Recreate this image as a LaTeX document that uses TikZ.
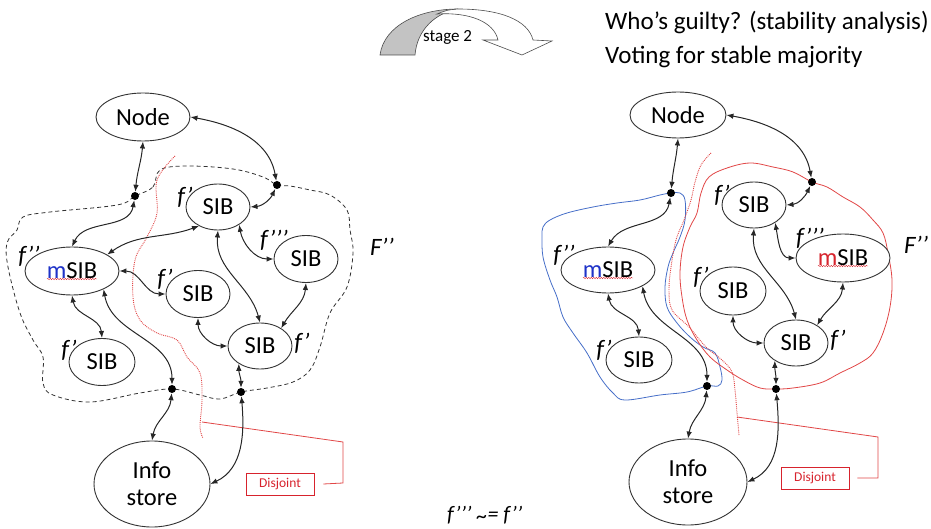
\documentclass[tikz,border=0pt]{standalone}
\usepackage{fontspec}
\setmainfont{Carlito}
\usetikzlibrary{arrows.meta,shapes.geometric,decorations.pathmorphing}
\definecolor{mred}{RGB}{215,35,45}
\definecolor{mblue}{RGB}{30,50,200}
\definecolor{bline}{RGB}{70,110,200}
\definecolor{rline}{RGB}{225,70,70}
\definecolor{backgray}{RGB}{195,195,195}
\begin{document}
\begin{tikzpicture}[x=1pt,y=1pt,
  ell/.style={draw=black!80, ellipse, fill=white, inner sep=0pt, line width=0.9pt, font=\fontsize{24.5}{27}\selectfont},
  dotn/.style={circle, fill=black, inner sep=0pt, minimum size=8pt},
  conn/.style={{Latex[length=7pt,width=5.5pt]}-{Latex[length=7pt,width=5.5pt]}, line width=1pt, black!85},
  flab/.style={inner sep=0pt, font=\fontsize{25}{27}\selectfont\itshape},
  disj/.style={draw=mred, text=mred, line width=0.8pt, minimum width=68pt, minimum height=22pt, inner sep=0pt, font=\fontsize{13.5}{15}\selectfont},
  redln/.style={rline, line width=0.8pt},
  wavy/.style={mred, line width=0.4pt, decorate, decoration={snake, amplitude=0.7pt, segment length=2.5pt}}
]
\useasboundingbox (0,0) rectangle (931,-529);

% ---------- header ----------
\fill[backgray, draw=black!70, line width=0.6pt] (380,-55) .. controls (384,-25) and (420,-9) .. (458,-9)
  .. controls (435,-13) and (417,-30) .. (415,-55) -- cycle;
\filldraw[fill=white, draw=black!70, line width=0.6pt] (437,-14) .. controls (447,-10) .. (458,-9)
  .. controls (500,-9) and (528,-20) .. (533,-40) -- (552,-41) -- (522,-55) -- (483,-40) -- (498,-40)
  .. controls (494,-22) and (470,-12) .. (437,-14) -- cycle;
\node[anchor=base west, inner sep=0pt, font=\fontsize{17}{19}\selectfont] (stage) at (423,-42) {stage 2};
\node[anchor=base west, inner sep=0pt, font=\fontsize{25}{28}\selectfont] (t1) at (605,-30) {Who’s guilty? (stability analysis)};
\node[anchor=base west, inner sep=0pt, font=\fontsize{25}{28}\selectfont] (t2) at (605,-64) {Voting for stable majority};
\node[anchor=base west, inner sep=0pt, font=\fontsize{22}{24}\selectfont\itshape] (eq) at (447,-521) {f’’’ \raisebox{-2.5pt}{\textasciitilde}= f’’};

% ---------- left boundaries ----------
\draw[dash pattern=on 4pt off 3pt, line width=0.8pt, black!80] plot[smooth cycle, tension=0.6] coordinates {
  (135,-196) (153,-187) (160,-170) (187,-166) (233,-169) (263,-177) (277,-185)
  (290,-186) (310,-190) (330,-195) (347,-210) (350,-230) (353,-253) (347,-287) (330,-313)
  (320,-347) (310,-370) (293,-382) (267,-388) (241,-392) (220,-399) (200,-395) (172,-389)
  (140,-393) (90,-402) (53,-395) (43,-383) (43,-357) (33,-340) (20,-313) (8,-267) (7,-243)
  (17,-230) (23,-217) (50,-212) (117,-205)};
\draw[densely dotted, rline, line width=0.9pt] plot[smooth, tension=0.6] coordinates {
  (175,-156) (157,-180) (157,-213) (147,-237) (135,-260) (133,-297) (140,-320) (157,-333)
  (177,-340) (187,-357) (200,-373) (202,-400) (200,-427) (203,-438)};

% ---------- right boundaries ----------
\draw[bline, line width=0.8pt] plot[smooth cycle, tension=0.6] coordinates {
  (671,-193) (680,-193) (685,-200) (685,-220) (680,-237) (673,-253) (668,-267) (665,-287)
  (667,-307) (677,-323) (690,-337) (703,-347) (715,-353) (720,-367) (722,-380) (718,-386)
  (707,-386) (687,-392) (660,-395) (625,-400) (613,-393) (600,-377) (587,-353) (573,-333)
  (563,-317) (557,-297) (550,-280) (543,-257) (542,-237) (543,-227) (550,-220) (567,-213)
  (593,-207) (617,-203) (640,-200) (660,-195)};
\draw[redln] plot[smooth cycle, tension=0.6] coordinates {
  (812,-182) (827,-187) (843,-197) (860,-207) (873,-220) (883,-233) (888,-253) (892,-280)
  (890,-307) (883,-333) (873,-353) (860,-363) (840,-373) (820,-383) (793,-388) (776,-389)
  (760,-388) (743,-380) (727,-370) (710,-357) (697,-340) (687,-320) (682,-297) (680,-273)
  (683,-247) (690,-227) (697,-213) (701,-193) (709,-177) (727,-168) (750,-163) (773,-167)
  (793,-172)};
\draw[densely dotted, rline, line width=0.9pt] plot[smooth, tension=0.6] coordinates {
  (711,-153) (701,-165) (695,-182) (691,-200) (684,-220) (676,-240) (671,-267) (669,-290)
  (672,-310) (689,-327) (706,-347) (722,-360) (732,-372) (735,-390) (737,-413) (739,-435)};

% ---------- left nodes ----------
\node[ell, minimum width=94pt, minimum height=48pt] (nodeL) at (143,-117) {Node};
\node[ell, minimum width=64pt, minimum height=46pt] (sib1L) at (218,-207) {SIB};
\node[ell, minimum width=64pt, minimum height=47pt] (sib2L) at (306,-259) {SIB};
\node[ell, minimum width=94pt, minimum height=48pt] (msibL) at (72,-271) {\textcolor{mblue}{m}SIB};
\node[ell, minimum width=64pt, minimum height=47pt] (sib3L) at (198,-294) {SIB};
\node[ell, minimum width=64pt, minimum height=46pt] (sib4L) at (260,-346) {SIB};
\node[ell, minimum width=66pt, minimum height=47pt] (sib5L) at (102,-362) {SIB};
\node[ell, minimum width=116pt, minimum height=86pt, align=center] (infoL) at (152,-484) {Info\\store};
\node[dotn] (d1L) at (135,-196) {};
\node[dotn] (d2L) at (277,-185) {};
\node[dotn] (d3L) at (172,-389) {};
\node[dotn] (d4L) at (241,-392) {};
\draw[wavy] ([xshift=-25pt,yshift=-8pt]msibL.center) -- ([xshift=25pt,yshift=-8pt]msibL.center);

\node[flab] (fl1) at (185,-197) {f’};
\node[flab] (fl2) at (274,-240) {f’’’};
\node[flab] (fl3) at (29,-256) {f’’};
\node[flab] (fl4) at (165,-279) {f’};
\node[flab] (fl5) at (302,-343) {f’};
\node[flab] (fl6) at (69,-350) {f’};
\node[flab] (FL) at (382,-247) {F’’};

% ---------- right nodes ----------
\node[ell, minimum width=96pt, minimum height=46pt] (nodeR) at (678,-115) {Node};
\node[ell, minimum width=64pt, minimum height=46pt] (sib1R) at (754,-205) {SIB};
\node[ell, minimum width=94pt, minimum height=48pt] (msib2R) at (843,-258) {\textcolor{mred}{m}SIB};
\node[ell, minimum width=94pt, minimum height=46pt] (msibR) at (608,-270) {\textcolor{mblue}{m}SIB};
\node[ell, minimum width=66pt, minimum height=48pt] (sib3R) at (733,-291) {SIB};
\node[ell, minimum width=64pt, minimum height=46pt] (sib4R) at (796,-343) {SIB};
\node[ell, minimum width=66pt, minimum height=46pt] (sib5R) at (639,-360) {SIB};
\node[ell, minimum width=118pt, minimum height=86pt, align=center] (infoR) at (688,-482) {Info\\store};
\node[dotn] (d1R) at (671,-193) {};
\node[dotn] (d2R) at (812,-182) {};
\node[dotn] (d3R) at (707,-386) {};
\node[dotn] (d4R) at (776,-389) {};
\draw[wavy] ([xshift=-25pt,yshift=-8pt]msibR.center) -- ([xshift=25pt,yshift=-8pt]msibR.center);
\draw[wavy] ([xshift=-25pt,yshift=-8pt]msib2R.center) -- ([xshift=25pt,yshift=-8pt]msib2R.center);

\node[flab] (fr1) at (722,-195) {f’};
\node[flab] (fr2) at (810,-238) {f’’’};
\node[flab] (fr3) at (564,-255) {f’’};
\node[flab] (fr4) at (701,-277) {f’};
\node[flab] (fr5) at (838,-340) {f’};
\node[flab] (fr6) at (604,-350) {f’};
\node[flab] (FR) at (916,-245) {F’’};

% ---------- Disjoint callouts ----------
\node[disj] (disjL) at (280,-484) {Disjoint};
\node[disj] (disjR) at (815,-478) {Disjoint};
\coordinate (tickL) at (202,-422);
\coordinate (tickR) at (737,-417);
\draw[redln] (tickL) -- (343,-442) -- (343,-483) -- ([xshift=9pt]disjL.east);
\draw[redln] (tickR) -- (878,-437) -- (878,-478) -- ([xshift=8pt]disjR.east);

% ---------- left connectors ----------
\draw[conn] (nodeL.south) to[out=-95,in=85] (d1L);
\draw[conn] (nodeL.east) to[out=-10,in=100] (d2L);
\draw[conn] (d1L) to[out=-100,in=65] (msibL.north);
\draw[conn] (d2L) to[out=-115,in=5] (sib1L.east);
\draw[conn] (sib1L.-135) to[out=200,in=35] (msibL.25);
\draw[conn] (sib1L.-40) to[out=-80,in=180] (sib2L.west);
\draw[conn] (sib1L.south) to[out=-95,in=105] (sib4L.north);
\draw[conn] (msibL.east) to[out=0,in=180] (sib3L.west);
\draw[conn] (msibL.south) to[out=-80,in=95] (sib5L.north);
\draw[conn] (msibL.-30) to[out=-80,in=90] (d3L);
\draw[conn] (sib3L.south) to[out=-90,in=180] (sib4L.west);
\draw[conn] (sib2L.south) to[out=-95,in=60] (sib4L.40);
\draw[conn] (sib4L.-140) to[out=-90,in=90] (d4L);
\draw[conn] (d3L) to[out=-95,in=80] (infoL.north);
\draw[conn] (d4L) to[out=-85,in=25] (infoL.east);

% ---------- right connectors ----------
\draw[conn] (nodeR.south) to[out=-95,in=85] (d1R);
\draw[conn] (nodeR.east) to[out=-10,in=100] (d2R);
\draw[conn] (d1R) to[out=-100,in=60] (msibR.north);
\draw[conn] (d2R) to[out=-115,in=5] (sib1R.east);
\draw[conn] (sib1R.-40) to[out=-80,in=180] (msib2R.west);
\draw[conn] (sib1R.south) to[out=-95,in=105] (sib4R.north);
\draw[conn] (msib2R.south) to[out=-95,in=60] (sib4R.40);
\draw[conn] (sib3R.south) to[out=-90,in=180] (sib4R.west);
\draw[conn] (msibR.south) to[out=-80,in=95] (sib5R.north);
\draw[conn] (msibR.-25) to[out=-80,in=90] (d3R);
\draw[conn] (sib4R.-140) to[out=-90,in=90] (d4R);
\draw[conn] (d3R) to[out=-95,in=80] (infoR.north);
\draw[conn] (d4R) to[out=-85,in=25] (infoR.east);
\end{tikzpicture}
\end{document}
